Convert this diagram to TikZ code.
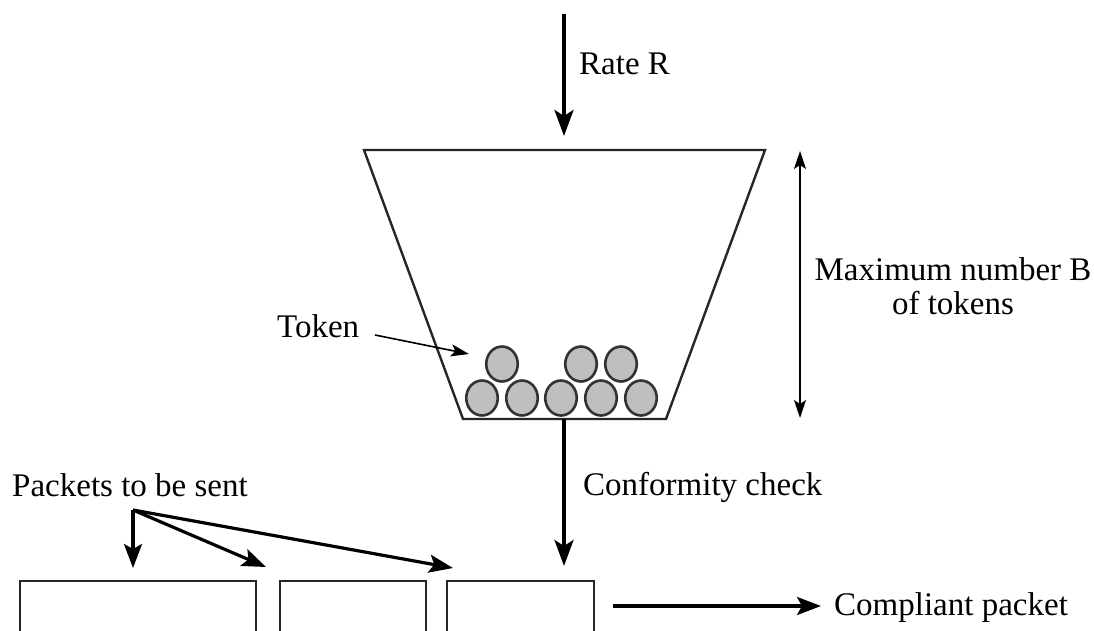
\documentclass[tikz,border=0pt]{standalone}
\usepackage{fontspec}
\setmainfont{Liberation Serif}
\usetikzlibrary{arrows.meta,shapes.geometric}
\tikzset{
  x=1pt,y=-1pt,
  lbl/.style={inner sep=0pt,font=\fontsize{33}{34}\selectfont,align=center},
  thin line/.style={draw=black!85,line width=2.4pt},
  bigarrow/.style={draw=black,line width=3.6pt,-{Stealth[length=26pt,width=19pt,inset=6pt]}},
  midarrow/.style={draw=black,line width=3.2pt,-{Stealth[length=24pt,width=18pt,inset=5pt]}},
  smallarrow/.style={draw=black,line width=1.6pt,-{Stealth[length=18pt,width=12pt,inset=4pt]}},
  dblarrow/.style={draw=black,line width=1.6pt,{Stealth[length=18pt,width=12pt,inset=4pt]}-{Stealth[length=18pt,width=12pt,inset=4pt]}},
  tok/.style={ellipse,draw=black!80,line width=2.6pt,fill=black!25,minimum width=31.5pt,minimum height=35pt,inner sep=0pt,outer sep=0pt},
  pkt/.style={draw=black!85,line width=2.4pt,anchor=north west,inner sep=0pt,outer sep=0pt,minimum height=80pt},
}
\begin{document}
\begin{tikzpicture}
\useasboundingbox (0,0) rectangle (1094,631);
\clip (0,0) rectangle (1094,631);
% bucket
\coordinate (bTL) at (364,150);
\coordinate (bTR) at (765,150);
\coordinate (bBR) at (666,419);
\coordinate (bBL) at (463,419);
\draw[thin line,line join=miter] (bTL) -- (bTR) -- (bBR) -- (bBL) -- cycle;
% tokens
\node[tok] (t1) at (502,364) {};
\node[tok] (t2) at (581,364) {};
\node[tok] (t3) at (621,364) {};
\node[tok] (t4) at (482,398) {};
\node[tok] (t5) at (522,398) {};
\node[tok] (t6) at (561,398) {};
\node[tok] (t7) at (601,398) {};
\node[tok] (t8) at (641,398) {};
% rate
\coordinate (rs) at (564,14);
\coordinate (re) at (564,136);
\draw[bigarrow] (rs) -- (re);
\node[lbl,anchor=west] (rate) at (579,64) {Rate R};
% max
\coordinate (ms) at (800,151);
\coordinate (me) at (800,418);
\draw[dblarrow] (ms) -- (me);
\node[lbl] (maxl) at (953,286) {Maximum number B\\of tokens};
% token label
\node[lbl,anchor=west] (token) at (277,326) {Token};
\coordinate (ts) at (375,335);
\coordinate (te) at (469,354);
\draw[smallarrow] (ts) -- (te);
% conformity
\coordinate (cs) at (564,419);
\coordinate (ce) at (564,566);
\draw[bigarrow] (cs) -- (ce);
\node[lbl,anchor=west] (conf) at (583,487) {Conformity check};
% packets
\node[lbl,anchor=west] (pk) at (12,485) {Packets to be sent};
\coordinate (po) at (133,510);
\coordinate (p1) at (133,568);
\coordinate (p2) at (266,567);
\coordinate (p3) at (453,568);
\draw[midarrow] (po) -- (p1);
\draw[midarrow] (po) -- (p2);
\draw[midarrow] (po) -- (p3);
\node[pkt,minimum width=236pt] (a) at (20,581) {};
\node[pkt,minimum width=146pt] (b) at (280,581) {};
\node[pkt,minimum width=147pt] (c) at (447,581) {};
% compliant
\coordinate (ks) at (613,606);
\coordinate (ke) at (821,606);
\draw[midarrow] (ks) -- (ke);
\node[lbl,anchor=west] (comp) at (834,608) {Compliant packet};
\end{tikzpicture}
\end{document}
